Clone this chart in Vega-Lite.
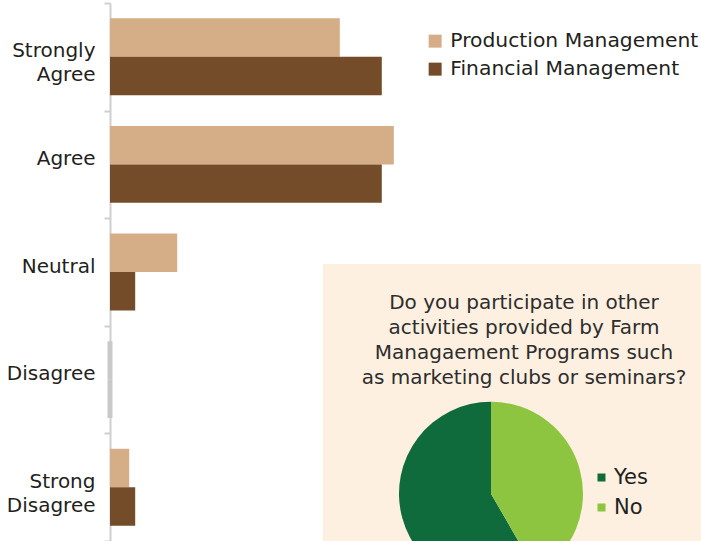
{
  "$schema": "https://vega.github.io/schema/vega-lite/v6.json",
  "autosize": {"type": "none"},
  "padding": {"left": 110, "top": 3, "right": 0, "bottom": 0},
  "width": 591,
  "height": 538,
  "background": "white",
  "config": {"view": {"stroke": null}, "font": "DejaVu Sans"},
  "resolve": {"scale": {"color": "independent"}, "legend": {"color": "independent"}},
  "layer": [
    {
      "data": {"values": [
        {"answer": "Strongly Agree", "series": "Production Management", "value": 38.3},
        {"answer": "Strongly Agree", "series": "Financial Management", "value": 45.3},
        {"answer": "Agree", "series": "Production Management", "value": 47.3},
        {"answer": "Agree", "series": "Financial Management", "value": 45.3},
        {"answer": "Neutral", "series": "Production Management", "value": 11.2},
        {"answer": "Neutral", "series": "Financial Management", "value": 4.2},
        {"answer": "Disagree", "series": "Production Management", "value": 0},
        {"answer": "Disagree", "series": "Financial Management", "value": 0},
        {"answer": "Strong Disagree", "series": "Production Management", "value": 3.2},
        {"answer": "Strong Disagree", "series": "Financial Management", "value": 4.2}
      ]},
      "layer": [
        {
          "mark": {"type": "bar"},
          "encoding": {
            "y": {
              "field": "answer", "type": "nominal",
              "sort": ["Strongly Agree", "Agree", "Neutral", "Disagree", "Strong Disagree"],
              "scale": {"paddingInner": 0, "paddingOuter": 0},
              "axis": {
                "title": null,
                "domainColor": "#cfcfcf", "domainWidth": 2,
                "tickColor": "#cfcfcf", "tickWidth": 2, "tickSize": 6, "tickBand": "extent",
                "labelFont": "DejaVu Sans", "labelFontSize": 20, "labelColor": "#231f20",
                "labelPadding": 9, "labelLineHeight": 24, "labelOffset": -6,
                "labelExpr": "split(datum.label, ' ')"
              }
            },
            "yOffset": {
              "field": "series", "type": "nominal",
              "sort": ["Production Management", "Financial Management"],
              "scale": {"paddingInner": 0, "paddingOuter": 0.4}
            },
            "x": {
              "field": "value", "type": "quantitative",
              "scale": {"domain": [0, 98.5], "nice": false, "zero": true},
              "axis": null
            },
            "color": {
              "field": "series", "type": "nominal",
              "scale": {"domain": ["Production Management", "Financial Management"], "range": ["#d5ad87", "#754c29"]},
              "legend": {
                "title": null, "orient": "none", "legendX": 315, "legendY": 28,
                "padding": 0, "symbolType": "square", "symbolSize": 169, "symbolStrokeWidth": 0,
                "labelFont": "DejaVu Sans", "labelFontSize": 20.3, "labelColor": "#231f20",
                "labelOffset": 5, "rowPadding": 7, "labelLimit": 400
              }
            }
          }
        },
        {
          "transform": [{"filter": "datum.value == 0"}],
          "mark": {"type": "bar", "fill": "#c9c9c9", "stroke": "#c9c9c9", "strokeWidth": 5},
          "encoding": {
            "y": {"field": "answer", "type": "nominal", "sort": ["Strongly Agree", "Agree", "Neutral", "Disagree", "Strong Disagree"]},
            "yOffset": {"field": "series", "type": "nominal", "sort": ["Production Management", "Financial Management"]},
            "x": {"field": "value", "type": "quantitative"}
          }
        }
      ]
    },
    {
      "data": {"values": [{}]},
      "mark": {"type": "rect", "fill": "#fdf0e1"},
      "encoding": {
        "x": {"value": 213}, "x2": {"value": 591},
        "y": {"value": 261}, "y2": {"value": 540}
      }
    },
    {
      "data": {"values": [{}]},
      "mark": {
        "type": "text",
        "text": ["Do you participate in other", "activities provided by Farm", "Managaement Programs such", "as marketing clubs or seminars?"],
        "align": "center", "baseline": "alphabetic", "lineHeight": 25,
        "font": "DejaVu Sans", "fontSize": 20, "fill": "#2d2d2d"
      },
      "encoding": {"x": {"value": 414}, "y": {"value": 306}}
    },
    {
      "data": {"values": [
        {"answer": "Yes", "count": 14},
        {"answer": "No", "count": 10}
      ]},
      "mark": {"type": "arc", "radius": 92},
      "encoding": {
        "x": {"value": 381},
        "y": {"value": 490.7},
        "theta": {"field": "count", "type": "quantitative", "stack": true},
        "order": {"field": "answer", "sort": "ascending"},
        "color": {
          "field": "answer", "type": "nominal",
          "scale": {"domain": ["Yes", "No"], "range": ["#0f6b3b", "#8dc540"]},
          "legend": {
            "title": null, "orient": "none", "legendX": 481, "legendY": 464,
            "padding": 0, "symbolType": "square", "symbolSize": 64, "symbolStrokeWidth": 0,
            "labelFont": "DejaVu Sans", "labelFontSize": 21, "labelColor": "#231f20",
            "labelOffset": 2, "rowPadding": 8
          }
        }
      }
    }
  ]
}
